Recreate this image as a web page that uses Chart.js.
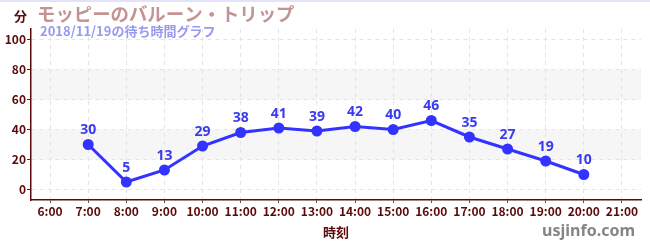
<!DOCTYPE html>
<html>
<head>
<meta charset="utf-8">
<script src="https://cdn.jsdelivr.net/npm/chart.js@4"></script>
<style>
html,body{margin:0;padding:0;background:#fff;}
#wrap{position:relative;width:650px;height:250px;}
</style>
</head>
<body>
<div id="wrap"><canvas id="c" width="650" height="250"></canvas></div>
<script>
const hours = ['6:00','7:00','8:00','9:00','10:00','11:00','12:00','13:00','14:00','15:00','16:00','17:00','18:00','19:00','20:00','21:00'];
const waitMinutes = [null,30,5,13,29,38,41,39,42,40,46,35,27,19,10,null];
const yTicks = [0,10,20,30,40,50,60,70,80,90,100];
const bands = [[20,40],[60,80]];
const titleText = 'モッピーのバルーン・トリップ';
const subtitleText = '2018/11/19の待ち時間グラフ';
const yUnit = '分';
const xTitle = '時刻';
const siteText = 'usjinfo.com';

const FONT = '"Noto Sans CJK JP", "Noto Sans", sans-serif';
const AXIS = '#5a0a0a';

const decor = {
  id: 'decor',
  beforeDraw(chart) {
    const {ctx, chartArea: a, scales: {y}} = chart;
    ctx.save();
    ctx.fillStyle = '#ffffff';
    ctx.fillRect(0, 0, chart.width, chart.height);
    ctx.fillStyle = '#f6f6f6';
    bands.forEach(([lo, hi]) => {
      const t = y.getPixelForValue(hi), b = y.getPixelForValue(lo);
      ctx.fillRect(a.left, t, a.right - a.left, b - t);
    });
    ctx.restore();
  },
  afterDraw(chart) {
    const {ctx, chartArea: a} = chart;
    ctx.save();
    ctx.fillStyle = '#e2e2fa';
    ctx.fillRect(0, 0, chart.width, 2);
    ctx.textBaseline = 'middle';
    ctx.textAlign = 'left';
    ctx.fillStyle = AXIS;
    ctx.font = 'bold 13px ' + FONT;
    ctx.fillText(yUnit, 14, 16);
    ctx.fillStyle = '#c49494';
    ctx.font = 'bold 18.4px ' + FONT;
    ctx.fillText(titleText, 37, 14);
    ctx.fillStyle = '#9999ee';
    ctx.font = 'bold 13px ' + FONT;
    ctx.fillText(subtitleText, 40, 31);
    ctx.fillStyle = AXIS;
    ctx.textAlign = 'center';
    ctx.font = 'bold 13px ' + FONT;
    ctx.fillText(xTitle, (a.left + a.right) / 2, 232);
    ctx.fillStyle = '#858585';
    ctx.textAlign = 'right';
    ctx.font = 'bold 16px "Noto Sans", sans-serif';
    ctx.fillText(siteText, 635, 231);
    // data labels
    const meta = chart.getDatasetMeta(0);
    ctx.fillStyle = '#3a3af0';
    ctx.textAlign = 'center';
    ctx.font = 'bold 14px "Noto Sans", sans-serif';
    meta.data.forEach((pt, i) => {
      const v = waitMinutes[i];
      if (v === null || v === undefined) return;
      ctx.fillText(String(v), pt.x, pt.y - 14);
    });
    ctx.restore();
  }
};

new Chart(document.getElementById('c'), {
  type: 'line',
  data: {
    labels: hours,
    datasets: [{
      data: waitMinutes,
      borderColor: '#3333ff',
      backgroundColor: '#3333ff',
      borderWidth: 3,
      pointRadius: 5.5,
      pointHoverRadius: 5.5,
      pointBackgroundColor: '#3333ff',
      pointBorderWidth: 0,
      tension: 0,
      spanGaps: false
    }]
  },
  options: {
    responsive: false,
    animation: false,
    events: [],
    layout: {padding: {left: 0, right: 9, top: 29, bottom: 0}},
    plugins: {legend: {display: false}, title: {display: false}, tooltip: {enabled: false}},
    scales: {
      x: {
        type: 'category',
        offset: true,
        afterFit(s) { s.height = 50; },
        border: {color: AXIS, width: 1.5, dash: [4, 4]},
        grid: {
          offset: false,
          color: '#e4e4e4',
          tickColor: '#555555',
          tickLength: 3,
          lineWidth: 1,
          tickBorderDash: []
        },
        ticks: {
          color: AXIS,
          font: {family: FONT, size: 12, weight: 'bold'},
          padding: 1,
          maxRotation: 0,
          autoSkip: false
        }
      },
      y: {
        min: -7,
        max: 107,
        afterFit(s) { s.width = 31; },
        afterBuildTicks(s) { s.ticks = yTicks.map(v => ({value: v})); },
        border: {color: AXIS, width: 1.5, dash: [4, 4]},
        grid: {
          color: (c) => (c.tick && c.tick.value % 20 === 0) ? '#e4e4e4' : 'rgba(0,0,0,0)',
          tickColor: (c) => (c.tick && c.tick.value % 20 === 0) ? '#333333' : '#dd2222',
          tickLength: 4,
          lineWidth: 1,
          tickBorderDash: []
        },
        ticks: {
          color: AXIS,
          font: {family: FONT, size: 12, weight: 'bold'},
          padding: 1,
          callback: (v) => (v % 20 === 0 ? String(v) : '')
        }
      }
    }
  },
  plugins: [decor]
});
</script>
</body>
</html>
